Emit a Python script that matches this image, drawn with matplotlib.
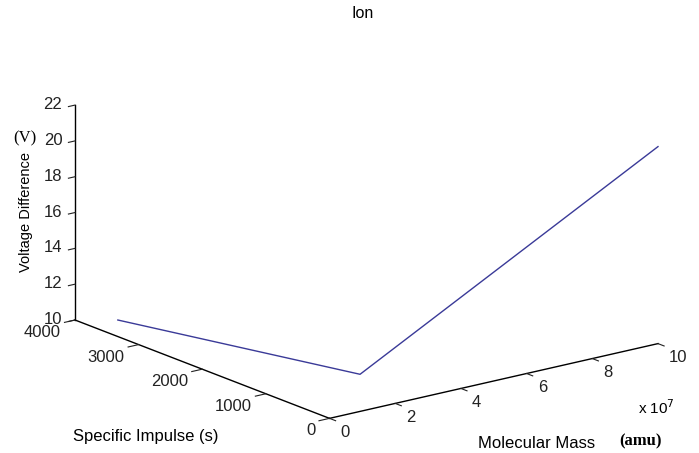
import numpy as np
import matplotlib
matplotlib.use("Agg")
import matplotlib.pyplot as plt
from mpl_toolkits.mplot3d import proj3d

# values (3 vertices of the line)
mass_amu = np.array([0.82e7, 2.77e7, 10.0e7])
isp_s = np.array([3750, 950, 0])
volt_v = np.array([10.0, 10.0, 21.0])

mass_ticks = [0, 2, 4, 6, 8, 10]
isp_ticks = [0, 1000, 2000, 3000, 4000]
volt_ticks = [10, 12, 14, 16, 18, 20, 22]

plt.rcParams['font.family'] = ['Liberation Sans', 'DejaVu Sans']

W, H = 699, 453
fig = plt.figure(figsize=(W / 100, H / 100), dpi=100)
side = 500
ax = fig.add_axes([0.1, 0.0, side / W, side / H], projection='3d', proj_type='ortho')

ax.plot(mass_amu / 1e7, isp_s, volt_v, color='#3a3a98', lw=1)

ax.set_xlim(0, 10)
ax.set_ylim(0, 4000)
ax.set_zlim(10, 22)
ax.set_xticks(mass_ticks)
ax.set_yticks(isp_ticks)
ax.set_zticks(volt_ticks)
ax.view_init(elev=17.25, azim=-127.5)
ax.set_box_aspect((414, 418, 225))
ax.grid(False)
for a in (ax.xaxis, ax.yaxis, ax.zaxis):
    a.pane.fill = False
    a.pane.set_edgecolor('none')
    a.line.set_color('k')
    a.line.set_linewidth(1.0)
    a._axinfo['tick']['linewidth'] = {True: 0.8, False: 0.5}
    a._axinfo['tick']['outward_factor'] = 0.0
ax.xaxis._axinfo['tick']['inward_factor'] = 0.3
ax.yaxis._axinfo['tick']['inward_factor'] = 0.4
ax.zaxis._axinfo['tick']['inward_factor'] = 0.25
ax.tick_params(labelsize=12, colors='#222222', pad=2)
ax.zaxis.set_tick_params(pad=-3)
for lab in ax.get_xticklabels():
    lab.set_ha('left')
    lab.set_va('center')
for lab in ax.get_yticklabels():
    lab.set_ha('right')
    lab.set_va('center')
for lab in ax.get_zticklabels():
    lab.set_ha('right')
    lab.set_va('center')

# fit the projected box onto the reference position
fig.canvas.draw()
def to_px(x, y, z):
    px, py, _ = proj3d.proj_transform(x, y, z, ax.M)
    return ax.transData.transform((px, py))
p_left = to_px(0, 4000, 10)
p_right = to_px(10, 0, 10)
s = 583 / (p_right[0] - p_left[0])
pos = ax.get_position()
x0, y0, ww, hh = pos.x0 * W, pos.y0 * H, pos.width * W, pos.height * H
fx = (p_left[0] - x0) / ww
fy = (p_left[1] - y0) / hh
nw, nh = ww * s, hh * s
nx0 = 75 - fx * nw
ny0 = (H - 320) - fy * nh
ax.set_position([nx0 / W, ny0 / H, nw / W, nh / H])

fig.text(363 / W, 1 - 13 / H, 'Ion', ha='center', va='center', fontsize=11.5)
fig.text(26 / W, 1 - 212 / H, 'Voltage Difference', rotation=90, ha='center', va='center', fontsize=10.5)
fig.text(25 / W, 1 - 138 / H, '(V)', family='Liberation Serif', ha='center', va='center', fontsize=12)
fig.text(146 / W, 1 - 437 / H, 'Specific Impulse (s)', ha='center', va='center', fontsize=12)
fig.text(537 / W, 1 - 443 / H, 'Molecular Mass', ha='center', va='center', fontsize=12)
fig.text(640 / W, 1 - 441 / H, '(amu)', family='Liberation Serif', weight='bold', ha='center', va='center', fontsize=12)
fig.text(656 / W, 1 - 408 / H, r'x 10$^7$', ha='center', va='center', fontsize=11)

fig.savefig('out.png', dpi=100)
